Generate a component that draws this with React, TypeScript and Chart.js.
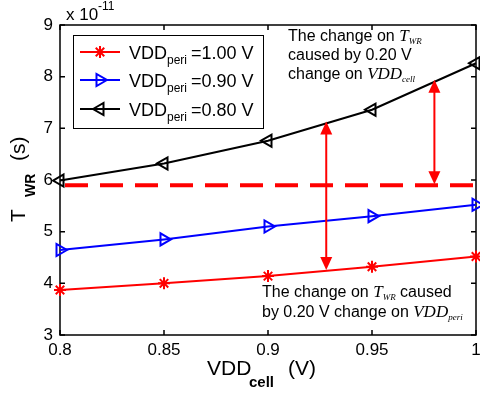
import { useEffect, useRef } from 'react';
import { Chart, registerables } from 'chart.js';
import { drawPoint } from 'chart.js/helpers';

Chart.register(...registerables);

// ---- data (T_WR in units of 1e-11 s) ----
const vddCell = [0.8, 0.85, 0.9, 0.95, 1.0];
const twrPeri100 = [3.87, 4.0, 4.14, 4.32, 4.52];
const twrPeri090 = [4.645, 4.85, 5.1, 5.3, 5.52];
const twrPeri080 = [5.99, 6.32, 6.76, 7.36, 8.26];
const refLevel = 5.9;
const xTicks = [0.8, 0.85, 0.9, 0.95, 1];
const xTickLabels = ['0.8', '0.85', '0.9', '0.95', '1'];
const yTicks = [3, 4, 5, 6, 7, 8, 9];
const arrowX = [0.928, 0.98];
const arrowTop = [7.13, 7.94];
const arrowBottom = [4.26, 5.92];
const legendValues = ['=1.00 V', '=0.90 V', '=0.80 V'];

const SANS = '"Liberation Sans", Arial, sans-serif';
const SERIF = '"Liberation Serif", "Times New Roman", serif';

type Seg = { t: string; f: string; dy?: number };

function drawSegs(ctx: CanvasRenderingContext2D, x: number, y: number, segs: Seg[]) {
  let cx = x;
  for (const s of segs) {
    ctx.font = s.f;
    ctx.fillText(s.t, cx, y + (s.dy || 0));
    cx += ctx.measureText(s.t).width;
  }
  return cx;
}

const markerStyles = [
  { color: 'rgb(255,0,0)', pointStyle: 'star', rotation: 0, radius: 6 },
  { color: 'rgb(0,0,255)', pointStyle: 'triangle', rotation: 90, radius: 7 },
  { color: 'rgb(0,0,0)', pointStyle: 'triangle', rotation: -90, radius: 7 },
];

const decorPlugin = {
  id: 'decor',
  beforeDatasetsDraw(chart: any) {
    const { ctx, chartArea: a, scales } = chart;
    const xs = scales.x, ys = scales.y;
    ctx.save();
    ctx.strokeStyle = '#000';
    ctx.lineWidth = 1.5;
    ctx.strokeRect(a.left, a.top, a.right - a.left, a.bottom - a.top);
    const tl = 5;
    ctx.beginPath();
    for (const v of xTicks) {
      const px = xs.getPixelForValue(v);
      ctx.moveTo(px, a.bottom); ctx.lineTo(px, a.bottom - tl);
      ctx.moveTo(px, a.top); ctx.lineTo(px, a.top + tl);
    }
    for (const v of yTicks) {
      const py = ys.getPixelForValue(v);
      ctx.moveTo(a.left, py); ctx.lineTo(a.left + tl, py);
      ctx.moveTo(a.right, py); ctx.lineTo(a.right - tl, py);
    }
    ctx.stroke();
    // x tick labels
    ctx.fillStyle = '#000';
    ctx.font = `17px ${SANS}`;
    ctx.textAlign = 'center';
    ctx.textBaseline = 'alphabetic';
    xTicks.forEach((v, i) => {
      ctx.fillText(xTickLabels[i], xs.getPixelForValue(v), a.bottom + 20);
    });
    ctx.restore();
  },
  afterDatasetsDraw(chart: any) {
    const { ctx, scales } = chart;
    const xs = scales.x, ys = scales.y;
    ctx.save();
    ctx.textAlign = 'left';
    ctx.textBaseline = 'alphabetic';
    // arrows
    ctx.strokeStyle = 'rgb(255,0,0)';
    ctx.fillStyle = 'rgb(255,0,0)';
    ctx.lineWidth = 2;
    const hl = 13, hw = 6;
    for (let i = 0; i < arrowX.length; i++) {
      const px = xs.getPixelForValue(arrowX[i]);
      const y1 = ys.getPixelForValue(arrowTop[i]);
      const y2 = ys.getPixelForValue(arrowBottom[i]);
      ctx.beginPath();
      ctx.moveTo(px, y1 + hl - 1); ctx.lineTo(px, y2 - hl + 1);
      ctx.stroke();
      ctx.beginPath();
      ctx.moveTo(px, y1); ctx.lineTo(px - hw, y1 + hl); ctx.lineTo(px + hw, y1 + hl); ctx.closePath();
      ctx.fill();
      ctx.beginPath();
      ctx.moveTo(px, y2); ctx.lineTo(px - hw, y2 - hl); ctx.lineTo(px + hw, y2 - hl); ctx.closePath();
      ctx.fill();
    }

    // legend
    const lx = 73, ly = 35, lw = 190, lh = 93;
    ctx.fillStyle = '#fff';
    ctx.fillRect(lx, ly, lw, lh);
    ctx.strokeStyle = '#000';
    ctx.lineWidth = 1;
    ctx.strokeRect(lx + 0.5, ly + 0.5, lw, lh);
    const rows = [52, 80, 109];
    for (let i = 0; i < 3; i++) {
      const m = markerStyles[i];
      const ry = rows[i];
      ctx.strokeStyle = m.color;
      ctx.lineWidth = 2;
      ctx.beginPath();
      ctx.moveTo(80, ry); ctx.lineTo(120, ry);
      ctx.stroke();
      ctx.fillStyle = 'rgba(0,0,0,0)';
      drawPoint(ctx, { pointStyle: m.pointStyle, rotation: m.rotation, radius: m.radius, borderWidth: 2 } as any, 100, ry);
      ctx.fillStyle = '#000';
      drawSegs(ctx, 129, ry + 7, [
        { t: 'VDD', f: `18px ${SANS}` },
        { t: 'peri', f: `12px ${SANS}`, dy: 5 },
      ]);
      ctx.font = `18px ${SANS}`;
      ctx.fillText(legendValues[i], 191, ry + 7);
    }

    // annotations
    ctx.fillStyle = '#000';
    const f16 = `16px ${SANS}`;
    drawSegs(ctx, 288, 41, [
      { t: 'The change on ', f: f16 },
      { t: 'T', f: `italic 17px ${SERIF}` },
      { t: 'WR', f: `italic 9px ${SERIF}`, dy: 3 },
    ]);
    drawSegs(ctx, 288, 60, [{ t: 'caused by 0.20 V', f: f16 }]);
    drawSegs(ctx, 288, 79, [
      { t: 'change on ', f: f16 },
      { t: 'VDD', f: `italic 17px ${SERIF}` },
      { t: 'cell', f: `italic 9px ${SERIF}`, dy: 3 },
    ]);
    drawSegs(ctx, 262, 297, [
      { t: 'The change on ', f: f16 },
      { t: 'T', f: `italic 17px ${SERIF}` },
      { t: 'WR', f: `italic 9px ${SERIF}`, dy: 3 },
      { t: ' caused', f: f16 },
    ]);
    drawSegs(ctx, 262, 317, [
      { t: 'by 0.20 V change on ', f: f16 },
      { t: 'VDD', f: `italic 17px ${SERIF}` },
      { t: 'peri', f: `italic 9px ${SERIF}`, dy: 3 },
    ]);

    // exponent
    drawSegs(ctx, 66, 20, [{ t: 'x 10', f: `17px ${SANS}` }]);
    drawSegs(ctx, 98, 10, [{ t: '-11', f: `12px ${SANS}` }]);

    // x title
    drawSegs(ctx, 207, 375, [{ t: 'VDD', f: `21px ${SANS}` }]);
    drawSegs(ctx, 249, 387, [{ t: 'cell', f: `bold 15px ${SANS}` }]);
    drawSegs(ctx, 288, 375, [{ t: '(V)', f: `21px ${SANS}` }]);

    // y title (rotated)
    ctx.save();
    ctx.translate(25, 0);
    ctx.rotate(-Math.PI / 2);
    ctx.font = `21px ${SANS}`;
    ctx.fillText('T', -222, 0);
    ctx.font = `bold 14px ${SANS}`;
    ctx.fillText('WR', -197, 10);
    ctx.font = `21px ${SANS}`;
    ctx.fillText('(s)', -161, 0);
    ctx.restore();

    ctx.restore();
  },
};

export default function App() {
  const ref = useRef<HTMLCanvasElement>(null);
  useEffect(() => {
    document.body.style.margin = '0';
    const mk = (vals: number[]) => vals.map((v, i) => ({ x: vddCell[i], y: v }));
    const series = [twrPeri100, twrPeri090, twrPeri080];
    const datasets: any[] = series.map((vals, i) => ({
      label: `VDD_peri ${legendValues[i]}`,
      data: mk(vals),
      borderColor: markerStyles[i].color,
      backgroundColor: 'rgba(0,0,0,0)',
      pointBackgroundColor: 'rgba(0,0,0,0)',
      pointBorderColor: markerStyles[i].color,
      pointStyle: markerStyles[i].pointStyle,
      pointRotation: markerStyles[i].rotation,
      pointRadius: markerStyles[i].radius,
      pointBorderWidth: 2,
      borderWidth: 2,
      tension: 0,
      clip: false,
    }));
    datasets.unshift({
      label: 'ref',
      data: [{ x: xTicks[0], y: refLevel }, { x: xTicks[xTicks.length - 1], y: refLevel }],
      borderColor: 'rgb(255,0,0)',
      borderWidth: 4,
      borderDash: [23, 12],
      borderDashOffset: -5,
      pointRadius: 0,
      clip: false,
    });
    const chart = new Chart(ref.current!, {
      type: 'line',
      data: { datasets },
      options: {
        animation: false,
        responsive: false,
        layout: { autoPadding: false, padding: { top: 25, right: 4, left: 0, bottom: 0 } },
        plugins: { legend: { display: false }, tooltip: { enabled: false } },
        scales: {
          x: {
            type: 'linear',
            min: 0.8,
            max: 1.0,
            afterBuildTicks: (s: any) => { s.ticks = xTicks.map((v) => ({ value: v })); },
            afterFit: (s: any) => { s.height = 59; },
            grid: { display: false, drawTicks: false },
            border: { display: false },
            ticks: { display: false },
          },
          y: {
            type: 'linear',
            min: 3,
            max: 9,
            afterBuildTicks: (s: any) => { s.ticks = yTicks.map((v) => ({ value: v })); },
            afterFit: (s: any) => { s.width = 60; },
            grid: { display: false, drawTicks: false },
            border: { display: false },
            ticks: {
              padding: 7,
              color: '#000',
              font: { family: SANS, size: 17 },
              autoSkip: false,
            },
          },
        },
      },
      plugins: [decorPlugin],
    } as any);
    return () => chart.destroy();
  }, []);
  return (
    <div style={{ position: 'absolute', left: 0, top: 0, width: 480, height: 394 }}>
      <canvas ref={ref} width={480} height={394} style={{ width: 480, height: 394 }} />
    </div>
  );
}
